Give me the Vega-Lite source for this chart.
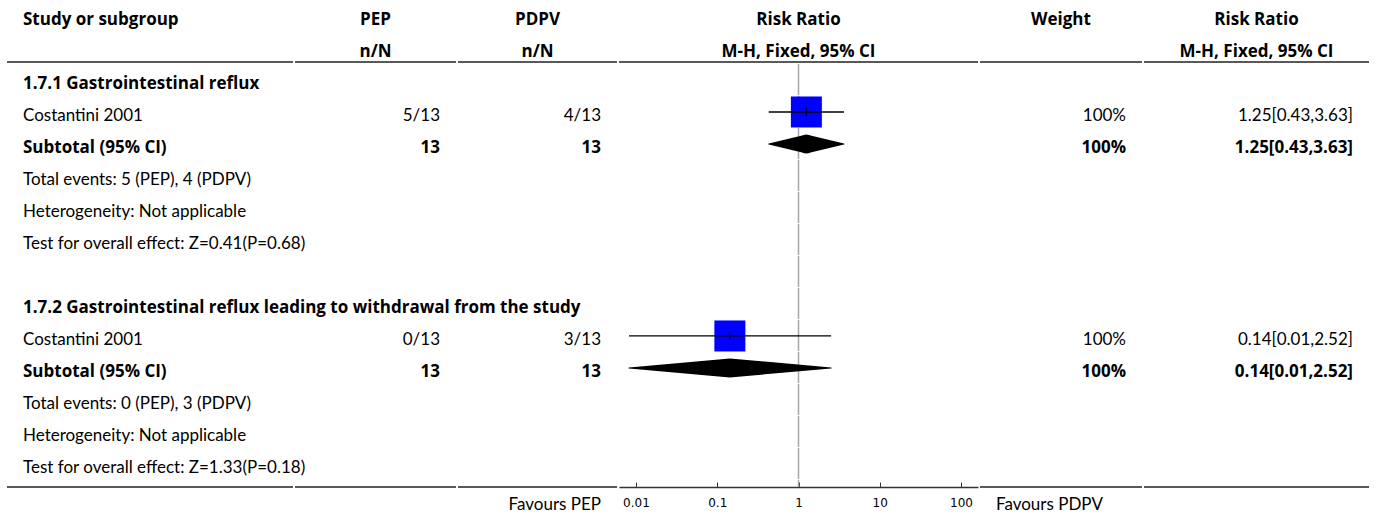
{
  "$schema": "https://vega.github.io/schema/vega-lite/v6.json",
  "padding": {"left": 6, "top": 0, "right": 0, "bottom": 0},
  "background": "white",
  "config": {
    "view": {"stroke": null},
    "text": {"font": "Lato", "fontSize": 17, "color": "#000", "baseline": "alphabetic", "dy": 8.8},
    "style": {"bold": {"font": "Open Sans", "fontSize": 16, "fontWeight": "bold"}},
    "axisY": {"disable": true},
    "axis": {"grid": false, "domainColor": "#333", "domainWidth": 1.5, "tickColor": "#333", "tickWidth": 1, "tickSize": -5, "labelFont": "DejaVu Sans", "labelFontSize": 12, "labelColor": "#000", "labelPadding": 15, "labelFlush": false, "labelBaseline": "top"}
  },
  "datasets": {
    "rows": [
      {"row": 0, "type": "group", "label": "1.7.1 Gastrointestinal reflux"},
      {"row": 1, "type": "study", "label": "Costantini 2001", "pep": "5/13", "pdpv": "4/13", "weight": "100%", "ci": "1.25[0.43,3.63]", "est": 1.25, "lo": 0.43, "hi": 3.63},
      {"row": 2, "type": "total", "label": "Subtotal (95% CI)", "pep": "13", "pdpv": "13", "weight": "100%", "ci": "1.25[0.43,3.63]", "est": 1.25, "lo": 0.43, "hi": 3.63},
      {"row": 3, "type": "note", "label": "Total events: 5 (PEP), 4 (PDPV)"},
      {"row": 4, "type": "note", "label": "Heterogeneity: Not applicable"},
      {"row": 5, "type": "note", "label": "Test for overall effect: Z=0.41(P=0.68)"},
      {"row": 7, "type": "group", "label": "1.7.2 Gastrointestinal reflux leading to withdrawal from the study"},
      {"row": 8, "type": "study", "label": "Costantini 2001", "pep": "0/13", "pdpv": "3/13", "weight": "100%", "ci": "0.14[0.01,2.52]", "est": 0.143, "lo": 0.0082, "hi": 2.52},
      {"row": 9, "type": "total", "label": "Subtotal (95% CI)", "pep": "13", "pdpv": "13", "weight": "100%", "ci": "0.14[0.01,2.52]", "est": 0.143, "lo": 0.0082, "hi": 2.52},
      {"row": 10, "type": "note", "label": "Total events: 0 (PEP), 3 (PDPV)"},
      {"row": 11, "type": "note", "label": "Heterogeneity: Not applicable"},
      {"row": 12, "type": "note", "label": "Test for overall effect: Z=1.33(P=0.18)"}
    ],
    "heads": [
      {"col": "A", "row": -2, "text": "Study or subgroup"},
      {"col": "B", "row": -2, "text": "PEP"},
      {"col": "B", "row": -1, "text": "n/N"},
      {"col": "C", "row": -2, "text": "PDPV"},
      {"col": "C", "row": -1, "text": "n/N"},
      {"col": "D", "row": -2, "text": "Risk Ratio"},
      {"col": "D", "row": -1, "text": "M-H, Fixed, 95% CI"},
      {"col": "E", "row": -2, "text": "Weight"},
      {"col": "F", "row": -2, "text": "Risk Ratio"},
      {"col": "F", "row": -1, "text": "M-H, Fixed, 95% CI"}
    ],
    "foot": [
      {"col": "C", "text": "Favours PEP"},
      {"col": "E", "text": "Favours PDPV"}
    ]
  },
  "spacing": 2,
  "bounds": "flush",
  "hconcat": [
    {
      "width": 286, "height": 487,
      "layer": [
        {"data": {"name": "heads"}, "transform": [{"filter": "datum.col === 'A'"}],
         "mark": {"type": "text", "align": "left", "dx": 16, "style": "bold"},
         "encoding": {"x": {"value": 0}, "y": {"field": "row", "type": "quantitative", "scale": {"domain": [-2.5, 12.72], "nice": false, "zero": false, "reverse": true}, "axis": null}, "text": {"field": "text"}}},
        {"data": {"name": "rows"}, "transform": [{"filter": "datum.type === 'study' || datum.type === 'note'"}],
         "mark": {"type": "text", "align": "left", "dx": 16},
         "encoding": {"x": {"value": 0}, "y": {"field": "row", "type": "quantitative", "axis": null}, "text": {"field": "label"}}},
        {"data": {"name": "rows"}, "transform": [{"filter": "datum.type === 'group' || datum.type === 'total'"}],
         "mark": {"type": "text", "align": "left", "dx": 16, "style": "bold"},
         "encoding": {"x": {"value": 0}, "y": {"field": "row", "type": "quantitative", "axis": null}, "text": {"field": "label"}}},
        {"data": {"values": [{}]}, "mark": {"type": "rule", "color": "#222", "strokeWidth": 1.5}, "encoding": {"y": {"datum": -0.56, "type": "quantitative", "axis": null}}},
        {"data": {"values": [{}]}, "mark": {"type": "rule", "color": "#222", "strokeWidth": 1.5}, "encoding": {"y": {"datum": 12.72, "type": "quantitative", "axis": null}}}
      ]
    },
    {
      "width": 161, "height": 487,
      "layer": [
        {"data": {"name": "heads"}, "transform": [{"filter": "datum.col === 'B'"}],
         "mark": {"type": "text", "align": "center", "style": "bold"},
         "encoding": {"y": {"field": "row", "type": "quantitative", "scale": {"domain": [-2.5, 12.72], "nice": false, "zero": false, "reverse": true}, "axis": null}, "text": {"field": "text"}}},
        {"data": {"name": "rows"}, "transform": [{"filter": "datum.type === 'study'"}],
         "mark": {"type": "text", "align": "right", "dx": -16},
         "encoding": {"x": {"value": "width"}, "y": {"field": "row", "type": "quantitative", "axis": null}, "text": {"field": "pep"}}},
        {"data": {"name": "rows"}, "transform": [{"filter": "datum.type === 'total'"}],
         "mark": {"type": "text", "align": "right", "dx": -16, "style": "bold"},
         "encoding": {"x": {"value": "width"}, "y": {"field": "row", "type": "quantitative", "axis": null}, "text": {"field": "pep"}}},
        {"data": {"values": [{}]}, "mark": {"type": "rule", "color": "#222", "strokeWidth": 1.5}, "encoding": {"y": {"datum": -0.56, "type": "quantitative", "axis": null}}},
        {"data": {"values": [{}]}, "mark": {"type": "rule", "color": "#222", "strokeWidth": 1.5}, "encoding": {"y": {"datum": 12.72, "type": "quantitative", "axis": null}}}
      ]
    },
    {
      "width": 159, "height": 487,
      "layer": [
        {"data": {"name": "heads"}, "transform": [{"filter": "datum.col === 'C'"}],
         "mark": {"type": "text", "align": "center", "style": "bold"},
         "encoding": {"y": {"field": "row", "type": "quantitative", "scale": {"domain": [-2.5, 12.72], "nice": false, "zero": false, "reverse": true}, "axis": null}, "text": {"field": "text"}}},
        {"data": {"name": "rows"}, "transform": [{"filter": "datum.type === 'study'"}],
         "mark": {"type": "text", "align": "right", "dx": -16},
         "encoding": {"x": {"value": "width"}, "y": {"field": "row", "type": "quantitative", "axis": null}, "text": {"field": "pdpv"}}},
        {"data": {"name": "rows"}, "transform": [{"filter": "datum.type === 'total'"}],
         "mark": {"type": "text", "align": "right", "dx": -16, "style": "bold"},
         "encoding": {"x": {"value": "width"}, "y": {"field": "row", "type": "quantitative", "axis": null}, "text": {"field": "pdpv"}}},
        {"data": {"name": "foot"}, "transform": [{"filter": "datum.col === 'C'"}],
         "mark": {"type": "text", "align": "right", "dx": -16},
         "encoding": {"x": {"value": "width"}, "y": {"datum": 13.15, "type": "quantitative", "axis": null}, "text": {"field": "text"}}},
        {"data": {"values": [{}]}, "mark": {"type": "rule", "color": "#222", "strokeWidth": 1.5}, "encoding": {"y": {"datum": -0.56, "type": "quantitative", "axis": null}}},
        {"data": {"values": [{}]}, "mark": {"type": "rule", "color": "#222", "strokeWidth": 1.5}, "encoding": {"y": {"datum": 12.72, "type": "quantitative", "axis": null}}}
      ]
    },
    {
      "width": 359, "height": 487,
      "layer": [
        {"data": {"name": "heads"}, "transform": [{"filter": "datum.col === 'D'"}],
         "mark": {"type": "text", "align": "center", "style": "bold"},
         "encoding": {"y": {"field": "row", "type": "quantitative", "scale": {"domain": [-2.5, 12.72], "nice": false, "zero": false, "reverse": true}, "axis": null}, "text": {"field": "text"}}},
        {"data": {"values": [{}]}, "mark": {"type": "rule", "color": "#222", "strokeWidth": 1.5}, "encoding": {"y": {"datum": -0.56, "type": "quantitative", "axis": null}}},
        {"data": {"values": [{}]}, "mark": {"type": "rule", "color": "#a6a6a6", "strokeWidth": 1.5, "strokeDash": [31, 1]},
         "encoding": {
           "x": {"datum": 1, "type": "quantitative", "scale": {"type": "log", "domain": [0.00618, 161.8], "nice": false}, "axis": {"values": [0.01, 0.1, 1, 10, 100], "format": "~g"}, "title": null},
           "y": {"datum": -0.5, "type": "quantitative", "axis": null},
           "y2": {"datum": 12.72}}},
        {"data": {"name": "rows"}, "transform": [{"filter": "datum.type === 'study'"}],
         "mark": {"type": "point", "shape": "square", "size": 961, "filled": true, "color": "#0000ff", "opacity": 1, "strokeWidth": 0},
         "encoding": {
           "x": {"field": "est", "type": "quantitative", "axis": {"values": [0.01, 0.1, 1, 10, 100], "format": "~g"}, "title": null},
           "y": {"field": "row", "type": "quantitative", "axis": null}}},
        {"data": {"name": "rows"}, "transform": [{"filter": "datum.type === 'study'"}],
         "mark": {"type": "rule", "color": "#000", "strokeWidth": 1.3},
         "encoding": {
           "x": {"field": "lo", "type": "quantitative", "axis": {"values": [0.01, 0.1, 1, 10, 100], "format": "~g"}, "title": null},
           "x2": {"field": "hi"},
           "y": {"field": "row", "type": "quantitative", "axis": null}}},
        {"data": {"name": "rows"}, "transform": [{"filter": "datum.type === 'study'"}],
         "mark": {"type": "point", "shape": "M0,-1L0,1", "size": 64, "filled": false, "color": "#000", "strokeWidth": 1, "opacity": 1},
         "encoding": {
           "x": {"field": "est", "type": "quantitative", "axis": {"values": [0.01, 0.1, 1, 10, 100], "format": "~g"}, "title": null},
           "y": {"field": "row", "type": "quantitative", "axis": null}}},
        {"data": {"name": "rows"}, "transform": [{"filter": "datum.type === 'total'"}, {"fold": ["lo", "est", "hi"], "as": ["key", "value"]}],
         "mark": {"type": "trail", "color": "#000"},
         "encoding": {
           "x": {"field": "value", "type": "quantitative", "axis": {"values": [0.01, 0.1, 1, 10, 100], "format": "~g"}, "title": null},
           "y": {"field": "row", "type": "quantitative", "axis": null},
           "detail": {"field": "row", "type": "nominal"},
           "order": {"field": "value", "type": "quantitative"},
           "size": {"field": "key", "type": "ordinal", "scale": {"type": "ordinal", "domain": ["lo", "est", "hi"], "range": [0, 19, 0]}, "legend": null}}}
      ]
    },
    {
      "width": 162, "height": 487,
      "layer": [
        {"data": {"name": "heads"}, "transform": [{"filter": "datum.col === 'E'"}],
         "mark": {"type": "text", "align": "center", "style": "bold"},
         "encoding": {"y": {"field": "row", "type": "quantitative", "scale": {"domain": [-2.5, 12.72], "nice": false, "zero": false, "reverse": true}, "axis": null}, "text": {"field": "text"}}},
        {"data": {"name": "rows"}, "transform": [{"filter": "datum.type === 'study'"}],
         "mark": {"type": "text", "align": "right", "dx": -16},
         "encoding": {"x": {"value": "width"}, "y": {"field": "row", "type": "quantitative", "axis": null}, "text": {"field": "weight"}}},
        {"data": {"name": "rows"}, "transform": [{"filter": "datum.type === 'total'"}],
         "mark": {"type": "text", "align": "right", "dx": -16, "style": "bold"},
         "encoding": {"x": {"value": "width"}, "y": {"field": "row", "type": "quantitative", "axis": null}, "text": {"field": "weight"}}},
        {"data": {"name": "foot"}, "transform": [{"filter": "datum.col === 'E'"}],
         "mark": {"type": "text", "align": "left", "dx": 16},
         "encoding": {"x": {"value": 0}, "y": {"datum": 13.15, "type": "quantitative", "axis": null}, "text": {"field": "text"}}},
        {"data": {"values": [{}]}, "mark": {"type": "rule", "color": "#222", "strokeWidth": 1.5}, "encoding": {"y": {"datum": -0.56, "type": "quantitative", "axis": null}}},
        {"data": {"values": [{}]}, "mark": {"type": "rule", "color": "#222", "strokeWidth": 1.5}, "encoding": {"y": {"datum": 12.72, "type": "quantitative", "axis": null}}}
      ]
    },
    {
      "width": 225, "height": 487,
      "layer": [
        {"data": {"name": "heads"}, "transform": [{"filter": "datum.col === 'F'"}],
         "mark": {"type": "text", "align": "center", "style": "bold"},
         "encoding": {"y": {"field": "row", "type": "quantitative", "scale": {"domain": [-2.5, 12.72], "nice": false, "zero": false, "reverse": true}, "axis": null}, "text": {"field": "text"}}},
        {"data": {"name": "rows"}, "transform": [{"filter": "datum.type === 'study'"}],
         "mark": {"type": "text", "align": "right", "dx": -16},
         "encoding": {"x": {"value": "width"}, "y": {"field": "row", "type": "quantitative", "axis": null}, "text": {"field": "ci"}}},
        {"data": {"name": "rows"}, "transform": [{"filter": "datum.type === 'total'"}],
         "mark": {"type": "text", "align": "right", "dx": -16, "style": "bold"},
         "encoding": {"x": {"value": "width"}, "y": {"field": "row", "type": "quantitative", "axis": null}, "text": {"field": "ci"}}},
        {"data": {"values": [{}]}, "mark": {"type": "rule", "color": "#222", "strokeWidth": 1.5}, "encoding": {"y": {"datum": -0.56, "type": "quantitative", "axis": null}}},
        {"data": {"values": [{}]}, "mark": {"type": "rule", "color": "#222", "strokeWidth": 1.5}, "encoding": {"y": {"datum": 12.72, "type": "quantitative", "axis": null}}}
      ]
    }
  ]
}
